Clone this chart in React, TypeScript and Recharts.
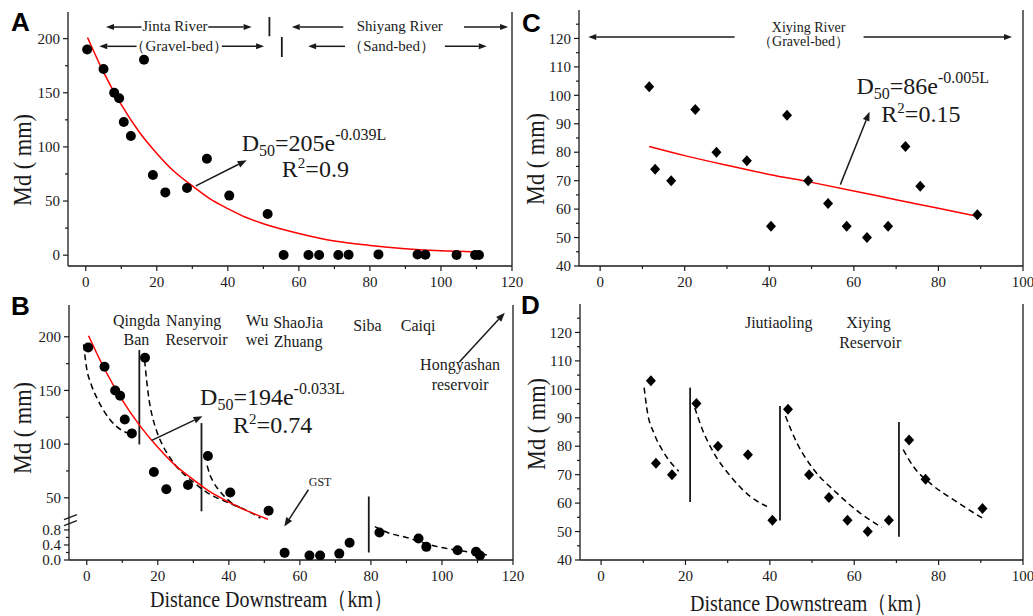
import React from 'react';
import {
  ComposedChart,
  Scatter,
  Line,
  XAxis,
  YAxis,
  ReferenceLine,
  ReferenceDot,
} from 'recharts';

const SERIF = 'Liberation Serif, Times New Roman, serif';
const SANS = 'Liberation Sans, Arial, sans-serif';
const INK = '#1a1a1a';

// ---- Jinta / Shiyang River samples (panels A and B) ----
const jsDistance = [0.4, 5.0, 8.0, 9.4, 10.7, 12.7, 16.4, 18.9, 22.4, 28.5, 34.1, 40.4, 51.2, 55.7, 62.7, 65.7, 71.1, 74.0, 82.4, 93.4, 95.6, 104.4, 109.6, 110.7];
const jsMd = [190, 172, 150, 145, 123, 110, 180.5, 74, 58, 62, 89, 55, 38, 0.19, 0.12, 0.12, 0.17, 0.46, 0.73, 0.57, 0.35, 0.26, 0.22, 0.12];

// red fit of panel A
const fitADistance = [0.5, 5, 10, 15, 20, 25, 30, 35, 40, 45, 50, 60, 70, 80, 90, 100, 110];
const fitAMd = [201, 169, 139, 114, 94, 77, 64, 52, 43, 35, 29, 20, 13, 9, 6, 4, 3];

// red fit of panel B
const fitBDistance = [0.5, 5, 10, 15, 20, 25, 30, 35, 40, 45, 51];
const fitBMd = [201, 170, 141, 117, 97, 80, 67, 55, 46, 38, 30];

// dashed reach curves of panel B
const dashB1Distance = [-0.9, 0, 1.2, 3.0, 6.5, 9.8, 12.6];
const dashB1Md = [193, 170, 156, 142, 123, 113, 109];
const dashB2Distance = [16.3, 16.9, 17.6, 18.6, 19.8, 21.5, 23.3, 25.3, 29.5, 33.8, 39.4, 43.1, 46.9, 48.9];
const dashB2Md = [178, 158, 140, 124, 111, 98, 88, 79, 66, 55, 46, 41, 35, 31];
const dashB3Distance = [33.9, 34.6, 35.6, 38.0, 40.3, 43.1];
const dashB3Md = [80, 72, 65, 54, 46.5, 41];
const dashB4Distance = [81.1, 85, 90, 95, 100, 105, 110, 113.5];
const dashB4Md = [0.89, 0.72, 0.6, 0.45, 0.33, 0.25, 0.18, 0.12];

// location marks on the top edge of panel B / D
const bSiteTicks = [15.0, 25.5, 50.2, 55.1, 79.9, 93.8];
const dSiteTicks = [41.7, 62.7];

// ---- Xiying River samples (panels C and D) ----
const xyDistanceC = [11.6, 13.0, 16.8, 22.5, 27.5, 34.7, 40.4, 44.2, 49.2, 53.9, 58.3, 63.1, 68.1, 72.2, 75.7, 89.2];
const xyMdC = [103, 74, 70, 95, 80, 77, 54, 93, 70, 62, 54, 50, 54, 82, 68, 58];
const fitCDistance = [11.6, 20, 30, 40, 50, 60, 70, 80, 89.2];
const fitCMd = [82, 78.8, 75.4, 72.2, 69.4, 66.4, 63.3, 60.3, 57.5];

const xyDistanceD = [11.8, 13.0, 16.8, 22.6, 27.7, 34.8, 40.6, 44.3, 49.3, 54.0, 58.4, 63.2, 68.2, 73.0, 76.9, 90.4];
const xyMdD = [103, 74, 70, 95, 80, 77, 54, 93, 70, 62, 54, 50, 54, 82.2, 68.4, 58.1];
const dashD1Distance = [10.2, 11.0, 12.5, 14.9, 18.4];
const dashD1Md = [100.6, 91.8, 84.7, 77.7, 71.2];
const dashD2Distance = [22.2, 24.0, 26.7, 30.7, 35.4, 39.3];
const dashD2Md = [93.5, 85.9, 77.7, 69.4, 62.3, 58.8];
const dashD3Distance = [43.7, 46.4, 50.4, 55.9, 61.4, 66.5];
const dashD3Md = [90.6, 81.2, 71.8, 63.5, 56.5, 51.5];
const dashD4Distance = [71.6, 74.0, 77.9, 83.5, 90.4];
const dashD4Md = [78.8, 72.9, 67.1, 61.2, 54.7];

// ticks
const distTicksAB = [0, 10, 20, 30, 40, 50, 60, 70, 80, 90, 100, 110, 120];
const distTicksCD = [0, 10, 20, 30, 40, 50, 60, 70, 80, 90, 100];
const mdTicksA = [0, 25, 50, 75, 100, 125, 150, 175, 200];
const mdTicksB = [0, 0.2, 0.4, 0.6, 0.8, 50, 75, 100, 125, 150, 175, 200];
const mdLabelsB = ['0.0', '', '0.4', '', '0.8', '50', '', '100', '', '150', '', '200'];
const mdTicksCD = [40, 45, 50, 55, 60, 65, 70, 75, 80, 85, 90, 95, 100, 105, 110, 115, 120, 125];

// broken axis of panel B: sand-bed values (< ~1 mm) get their own stretched band
const LOW_TOP = 1.05;
const HIGH_BOTTOM = 28.8;
const LOW_STRETCH = 35;
const GAP = LOW_TOP * LOW_STRETCH;
const brk = (v: number) => (v <= LOW_TOP ? v * LOW_STRETCH : GAP + (v - HIGH_BOTTOM));

const pts = (xs: number[], ys: number[], f: (v: number) => number = (v) => v) =>
  xs.map((x, i) => ({ x, y: f(ys[i]) }));

const axisStyle = { stroke: INK, strokeWidth: 1.3 };
const serifStyle = { fontFamily: SERIF };

const xTick = (labelEvery: number) => (p: any) => {
  const v = p.payload.value;
  const major = v % labelEvery === 0;
  return (
    <g>
      <line x1={p.x} y1={p.y} x2={p.x} y2={p.y + (major ? 5 : 3)} stroke={INK} strokeWidth={1.2} />
      {major && (
        <text x={p.x} y={p.y + 21} textAnchor="middle" style={serifStyle} fontSize={15} fill={INK}>
          {v}
        </text>
      )}
    </g>
  );
};

const yTick = (labels: string[]) => (p: any) => {
  const lab = labels[p.index];
  const major = lab !== '';
  return (
    <g>
      <line x1={p.x} y1={p.y} x2={p.x - (major ? 5 : 3)} y2={p.y} stroke={INK} strokeWidth={1.2} />
      {major && (
        <text x={p.x - 8} y={p.y} dy="0.35em" textAnchor="end" style={serifStyle} fontSize={15} fill={INK}>
          {lab}
        </text>
      )}
    </g>
  );
};

const topTick = (p: any) => <line x1={p.x} y1={p.y} x2={p.x} y2={p.y + 5} stroke={INK} strokeWidth={1.2} />;

const dotShape = (p: any) => <circle cx={p.cx} cy={p.cy} r={5} fill="#000" />;
const diamondShape = (p: any) => (
  <polygon
    points={`${p.cx},${p.cy - 5.5} ${p.cx + 5},${p.cy} ${p.cx},${p.cy + 5.5} ${p.cx - 5},${p.cy}`}
    fill="#000"
  />
);

const arrowShape = (head = 9, width = 3.5, sw = 1.5) => (p: any) => {
  const { x1, y1, x2, y2 } = p;
  const a = Math.atan2(y2 - y1, x2 - x1);
  const bx = x2 - head * Math.cos(a);
  const by = y2 - head * Math.sin(a);
  const s = Math.sin(a);
  const c = Math.cos(a);
  return (
    <g>
      <line x1={x1} y1={y1} x2={bx} y2={by} stroke={INK} strokeWidth={sw} />
      <polygon points={`${x2},${y2} ${bx + width * s},${by - width * c} ${bx - width * s},${by + width * c}`} fill={INK} />
    </g>
  );
};

const arrow = (key: string, x1: number, y1: number, x2: number, y2: number, head = 9, width = 3.5, sw = 1.5) => (
  <ReferenceLine
    key={key}
    segment={[{ x: x1, y: y1 }, { x: x2, y: y2 }]}
    ifOverflow="visible"
    shape={arrowShape(head, width, sw)}
  />
);

const bar = (key: string, x: number, y1: number, y2: number, sw = 1.8) => (
  <ReferenceLine key={key} segment={[{ x, y: y1 }, { x, y: y2 }]} ifOverflow="visible" stroke={INK} strokeWidth={sw} />
);

const note = (key: string, x: number, y: number, s: string, size = 16, anchor = 'middle') => (
  <ReferenceDot
    key={key}
    x={x}
    y={y}
    r={0}
    ifOverflow="visible"
    shape={(p: any) => (
      <text x={p.cx} y={p.cy} textAnchor={anchor} style={serifStyle} fontSize={size} fill={INK}>
        {s}
      </text>
    )}
  />
);

const equation = (key: string, x: number, y: number, coef: string, expo: string) => (
  <ReferenceDot
    key={key}
    x={x}
    y={y}
    r={0}
    ifOverflow="visible"
    shape={(p: any) => (
      <text x={p.cx} y={p.cy} style={serifStyle} fontSize={24} fill={INK}>
        D<tspan fontSize={16} dy={5}>50</tspan>
        <tspan dy={-5}>={coef}e</tspan>
        <tspan fontSize={16} dy={-11}>{expo}</tspan>
      </text>
    )}
  />
);

const rSquared = (key: string, x: number, y: number, r: string) => (
  <ReferenceDot
    key={key}
    x={x}
    y={y}
    r={0}
    ifOverflow="visible"
    shape={(p: any) => (
      <text x={p.cx} y={p.cy} style={serifStyle} fontSize={24} fill={INK}>
        R<tspan fontSize={15} dy={-9}>2</tspan>
        <tspan dy={9}>={r}</tspan>
      </text>
    )}
  />
);

const fitLine = (data: { x: number; y: number }[]) => (
  <Line data={data} dataKey="y" type="monotone" stroke="#ff0000" strokeWidth={1.5} dot={false} isAnimationActive={false} />
);

const dashLine = (key: string, data: { x: number; y: number }[]) => (
  <Line
    key={key}
    data={data}
    dataKey="y"
    type="monotone"
    stroke="#000"
    strokeWidth={1.5}
    strokeDasharray="6 4"
    dot={false}
    isAnimationActive={false}
  />
);

const PanelA = () => (
  <ComposedChart width={540} height={300} margin={{ top: 12, right: 28, bottom: 0, left: 0 }}>
    <XAxis dataKey="x" type="number" domain={[-5, 120]} ticks={distTicksAB} interval={0} tickSize={0} tickMargin={0} tick={xTick(20)} height={34} axisLine={axisStyle} allowDataOverflow />
    <XAxis xAxisId="top" orientation="top" type="number" domain={[-5, 120]} height={0} tick={false} tickLine={false} axisLine={axisStyle} />
    <YAxis dataKey="y" type="number" domain={[-10, 224.6]} ticks={mdTicksA} interval={0} tickSize={0} tickMargin={0} tick={yTick(mdTicksA.map((v) => (v % 50 === 0 ? String(v) : '')))} width={68} axisLine={axisStyle} allowDataOverflow />
    <ReferenceLine x={120} stroke={INK} strokeWidth={1.3} />
    {fitLine(pts(fitADistance, fitAMd))}
    <Scatter data={pts(jsDistance, jsMd)} dataKey="y" shape={dotShape} isAnimationActive={false} />
    {arrow('j1', 15.7, 210.7, 5.7, 210.7, 8, 3)}
    {note('jt', 25.1, 206.6, 'Jinta River', 15)}
    {arrow('j2', 34.5, 210.7, 46.7, 210.7, 8, 3)}
    {bar('b1', 51.7, 220, 202.2)}
    {arrow('s1', 72.5, 210.7, 58.0, 210.7, 8, 3)}
    {note('st', 88.4, 206.6, 'Shiyang River', 15)}
    {arrow('s2', 106.5, 210.7, 118.9, 210.7, 8, 3)}
    {arrow('g1', 14.3, 192.9, 3.8, 192.9, 8, 3)}
    {note('gt', 26.3, 188.8, '（Gravel-bed）', 15)}
    {arrow('g2', 38.3, 192.9, 50.2, 192.9, 8, 3)}
    {bar('b2', 55.2, 201.5, 183)}
    {arrow('d1', 73.0, 192.9, 62.6, 192.9, 8, 3)}
    {note('dt', 86.1, 188.8, '（Sand-bed）', 15)}
    {arrow('d2', 101.1, 192.9, 112.9, 192.9, 8, 3)}
    {arrow('ea', 31.0, 64.0, 45.3, 87.7)}
    {equation('eq', 43.9, 96.3, '205', '-0.039L')}
    {rSquared('r2', 55.2, 72.3, '0.9')}
  </ComposedChart>
);

const PanelB = () => (
  <ComposedChart width={540} height={326} margin={{ top: 15, right: 27, bottom: 0, left: 0 }}>
    <XAxis dataKey="x" type="number" domain={[-5, 120]} ticks={distTicksAB} interval={0} tickSize={0} tickMargin={0} tick={xTick(20)} height={56} axisLine={axisStyle} allowDataOverflow />
    <XAxis xAxisId="top" orientation="top" type="number" domain={[-5, 120]} height={0} ticks={bSiteTicks} interval={0} tickSize={0} tickMargin={0} tick={topTick} axisLine={axisStyle} />
    <YAxis dataKey="y" type="number" domain={[0, GAP + 229.6 - HIGH_BOTTOM]} ticks={mdTicksB.map(brk)} interval={0} tickSize={0} tickMargin={0} tick={yTick(mdLabelsB)} width={69} axisLine={axisStyle} allowDataOverflow />
    <ReferenceLine x={120} stroke={INK} strokeWidth={1.3} />
    <ReferenceDot
      x={-5}
      y={GAP}
      r={0}
      ifOverflow="visible"
      shape={(p: any) => (
        <g>
          <line x1={p.cx - 5} y1={p.cy - 1} x2={p.cx + 8} y2={p.cy - 6} stroke={INK} strokeWidth={1.3} />
          <line x1={p.cx - 5} y1={p.cy + 5} x2={p.cx + 8} y2={p.cy} stroke={INK} strokeWidth={1.3} />
        </g>
      )}
    />
    {bar('v1', 14.8, brk(187.6), brk(99.7))}
    {bar('v2', 32.3, brk(119.6), brk(37.4))}
    {bar('v3', 79.4, brk(51.2), brk(0.2))}
    {dashLine('k1', pts(dashB1Distance, dashB1Md, brk))}
    {dashLine('k2', pts(dashB2Distance, dashB2Md, brk))}
    {dashLine('k3', pts(dashB3Distance, dashB3Md, brk))}
    {dashLine('k4', pts(dashB4Distance, dashB4Md, brk))}
    {fitLine(pts(fitBDistance, fitBMd, brk))}
    <Scatter data={pts(jsDistance, jsMd, brk)} dataKey="y" shape={dotShape} isAnimationActive={false} />
    {note('n1', 14.0, brk(210), 'Qingda')}
    {note('n2', 14.0, brk(192.2), 'Ban')}
    {note('n3', 30.1, brk(210), 'Nanying')}
    {note('n4', 30.9, brk(192.2), 'Reservoir')}
    {note('n5', 48.0, brk(210), 'Wu')}
    {note('n6', 48.0, brk(192.2), 'wei')}
    {note('n7', 59.5, brk(208), 'ShaoJia')}
    {note('n8', 59.5, brk(190.5), 'Zhuang')}
    {note('n9', 79.0, brk(205.3), 'Siba')}
    {note('n10', 93.3, brk(205.3), 'Caiqi')}
    {note('n11', 105.1, brk(168.9), 'Hongyashan')}
    {note('n12', 105.1, brk(150.8), 'reservoir')}
    {arrow('ah', 104.9, brk(176.6), 117.7, brk(222.4))}
    {arrow('ab', 18.3, brk(103.5), 32.6, brk(125.9))}
    {equation('eqb', 31.9, brk(136.2), '194', '-0.033L')}
    {rSquared('r2b', 41.2, brk(110.3), '0.74')}
    {note('gst', 65.7, brk(61), 'GST', 12)}
    {arrow('ag', 62.4, brk(57.5), 55.6, 0.89 * LOW_STRETCH)}
  </ComposedChart>
);

const PanelC = () => (
  <ComposedChart width={513} height={300} margin={{ top: 10, right: 10, bottom: 0, left: 0 }}>
    <XAxis dataKey="x" type="number" domain={[-5, 100]} ticks={distTicksCD} interval={0} tickSize={0} tickMargin={0} tick={xTick(20)} height={34} axisLine={axisStyle} allowDataOverflow />
    <XAxis xAxisId="top" orientation="top" type="number" domain={[-5, 100]} height={0} tick={false} tickLine={false} axisLine={axisStyle} />
    <YAxis dataKey="y" type="number" domain={[40, 130]} ticks={mdTicksCD} interval={0} tickSize={0} tickMargin={0} tick={yTick(mdTicksCD.map((v) => (v % 10 === 0 ? String(v) : '')))} width={59} axisLine={axisStyle} allowDataOverflow />
    <ReferenceLine x={100} stroke={INK} strokeWidth={1.3} />
    {fitLine(pts(fitCDistance, fitCMd))}
    <Scatter data={pts(xyDistanceC, xyMdC)} dataKey="y" shape={diamondShape} isAnimationActive={false} />
    {note('x1', 49.3, 122.3, 'Xiying River', 14)}
    {note('x2', 48.1, 117.2, '（Gravel-bed）', 14)}
    {arrow('xa1', 31.8, 120.5, -2.8, 120.5, 8, 3)}
    {arrow('xa2', 62.3, 120.5, 97.4, 120.5, 8, 3)}
    {arrow('ac', 56.8, 68.6, 63.7, 94.2)}
    {equation('eqc', 60.6, 100.4, '86', '-0.005L')}
    {rSquared('r2c', 66.5, 90.8, '0.15')}
  </ComposedChart>
);

const PanelD = () => (
  <ComposedChart width={513} height={326} margin={{ top: 14, right: 10, bottom: 0, left: 0 }}>
    <XAxis dataKey="x" type="number" domain={[-5, 100]} ticks={distTicksCD} interval={0} tickSize={0} tickMargin={0} tick={xTick(20)} height={56} axisLine={axisStyle} allowDataOverflow />
    <XAxis xAxisId="top" orientation="top" type="number" domain={[-5, 100]} height={0} ticks={dSiteTicks} interval={0} tickSize={0} tickMargin={0} tick={topTick} axisLine={axisStyle} />
    <YAxis dataKey="y" type="number" domain={[40, 130]} ticks={mdTicksCD} interval={0} tickSize={0} tickMargin={0} tick={yTick(mdTicksCD.map((v) => (v % 10 === 0 ? String(v) : '')))} width={60} axisLine={axisStyle} allowDataOverflow />
    <ReferenceLine x={100} stroke={INK} strokeWidth={1.3} />
    {bar('w1', 21.1, 100.6, 60.4)}
    {bar('w2', 42.4, 94.1, 53.9)}
    {bar('w3', 70.6, 88.5, 48.2)}
    {dashLine('q1', pts(dashD1Distance, dashD1Md))}
    {dashLine('q2', pts(dashD2Distance, dashD2Md))}
    {dashLine('q3', pts(dashD3Distance, dashD3Md))}
    {dashLine('q4', pts(dashD4Distance, dashD4Md))}
    <Scatter data={pts(xyDistanceD, xyMdD)} dataKey="y" shape={diamondShape} isAnimationActive={false} />
    {note('m1', 42.1, 121.4, 'Jiutiaoling')}
    {note('m2', 63.4, 121.4, 'Xiying')}
    {note('m3', 63.8, 114.7, 'Reservoir')}
  </ComposedChart>
);

const yTitle = (x: number, y: number) => (
  <text
    x={x}
    y={y}
    transform={`rotate(-90, ${x}, ${y})`}
    textAnchor="middle"
    style={serifStyle}
    fontSize={25}
    textLength={92}
    lengthAdjust="spacingAndGlyphs"
    fill={INK}
  >
    Md ( mm)
  </text>
);

const xTitle = (x: number, y: number) => (
  <text x={x} y={y} style={serifStyle} fontSize={24} textLength={243} lengthAdjust="spacingAndGlyphs" fill={INK}>
    Distance Downstream（km）
  </text>
);

const panelLetter = (x: number, y: number, s: string) => (
  <text x={x} y={y} style={{ fontFamily: SANS }} fontWeight="bold" fontSize={26} fill="#000">
    {s}
  </text>
);

export default function App() {
  return (
    <div style={{ position: 'absolute', left: 0, top: 0, width: 1033, height: 616, background: '#fff', overflow: 'hidden', fontFamily: SERIF }}>
      <div style={{ position: 'absolute', left: 0, top: 0 }}>
        <PanelA />
      </div>
      <div style={{ position: 'absolute', left: 0, top: 290 }}>
        <PanelB />
      </div>
      <div style={{ position: 'absolute', left: 520, top: 0 }}>
        <PanelC />
      </div>
      <div style={{ position: 'absolute', left: 520, top: 290 }}>
        <PanelD />
      </div>
      <svg width={1033} height={616} style={{ position: 'absolute', left: 0, top: 0, pointerEvents: 'none' }}>
        {panelLetter(11, 31, 'A')}
        {panelLetter(11, 315, 'B')}
        {panelLetter(522, 32, 'C')}
        {panelLetter(521, 314, 'D')}
        {yTitle(31, 160)}
        {yTitle(31, 428)}
        {yTitle(544, 159)}
        {yTitle(545, 424)}
        {xTitle(150, 607)}
        {xTitle(690, 611)}
      </svg>
    </div>
  );
}
